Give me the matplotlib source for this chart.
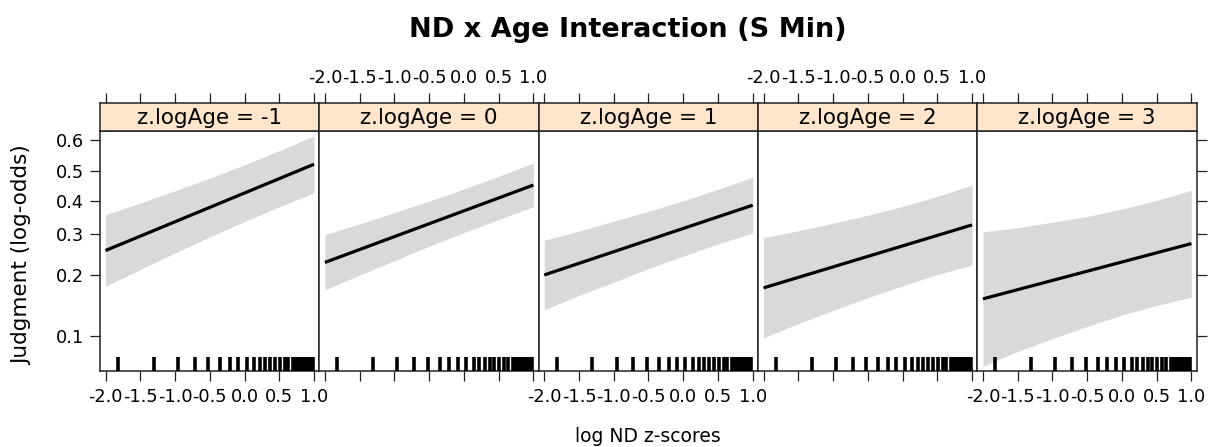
import matplotlib
matplotlib.use("Agg")
import matplotlib.pyplot as plt
from matplotlib.ticker import FixedLocator, FixedFormatter, NullLocator

# ---------------- data ----------------
age_levels = [-1, 0, 1, 2, 3]
fit_x = [-2.0, 1.0]
fit_start = [0.257, 0.228, 0.200, 0.174, 0.154]
fit_end = [0.521, 0.452, 0.387, 0.327, 0.275]

band_x = [-2.0, -1.5, -1.0, -0.5, 0.0, 0.5, 1.0]
band_upper = [
    [0.357, 0.394, 0.433, 0.475, 0.519, 0.566, 0.613],
    [0.299, 0.330, 0.364, 0.400, 0.439, 0.481, 0.525],
    [0.284, 0.309, 0.338, 0.368, 0.401, 0.438, 0.478],
    [0.291, 0.310, 0.332, 0.356, 0.383, 0.415, 0.452],
    [0.307, 0.319, 0.335, 0.352, 0.375, 0.402, 0.435],
]
band_lower = [
    [0.177, 0.212, 0.251, 0.293, 0.337, 0.382, 0.427],
    [0.170, 0.200, 0.232, 0.268, 0.305, 0.343, 0.382],
    [0.136, 0.160, 0.185, 0.214, 0.243, 0.274, 0.304],
    [0.098, 0.116, 0.135, 0.156, 0.178, 0.201, 0.222],
    [0.069, 0.083, 0.097, 0.112, 0.128, 0.143, 0.157],
]

rug_x = [-1.82, -1.31, -0.96, -0.72, -0.52, -0.35, -0.21, -0.09, 0.03,
         0.14, 0.22, 0.30, 0.37, 0.44, 0.51, 0.58, 0.63,
         0.70, 0.72, 0.74, 0.76, 0.78, 0.80, 0.82, 0.84, 0.86, 0.88,
         0.90, 0.92, 0.94, 0.96, 0.98]

xticks = [-2.0, -1.5, -1.0, -0.5, 0.0, 0.5, 1.0]
xtick_labels = ["-2.0", "-1.5", "-1.0", "-0.5", "0.0", "0.5", "1.0"]
yticks = [0.1, 0.2, 0.3, 0.4, 0.5, 0.6]
ytick_labels = ["0.1", "0.2", "0.3", "0.4", "0.5", "0.6"]

title = "ND x Age Interaction (S Min)"
xlabel = "log ND z-scores"
ylabel = "Judgment (log-odds)"

# ---------------- layout ----------------
W, H = 1208, 447
fig = plt.figure(figsize=(W / 100, H / 100), dpi=100)
plt.rcParams['font.family'] = ['DejaVu Sans']

left_px, panel_w_px = 100, 219.34
bottom_px, top_px, strip_top_px = 371, 130.7, 103.3
xlim = (-2.08, 1.076)
ylim = (0.0653, 0.6293)

edge = "#222222"
strip_col = "#ffe5cc"
band_col = "#d9d9d9"
tick_fs = 12.8

for i, age in enumerate(age_levels):
    x0 = (left_px + i * panel_w_px) / W
    w = panel_w_px / W
    ax = fig.add_axes([x0, (H - bottom_px) / H, w, (bottom_px - top_px) / H])
    sax = fig.add_axes([x0, (H - top_px) / H, w, (top_px - strip_top_px) / H],
                       sharex=ax)

    ax.set_yscale('logit')
    ax.fill_between(band_x, band_lower[i], band_upper[i],
                    color=band_col, linewidth=0, zorder=1)
    ax.plot(fit_x, [fit_start[i], fit_end[i]], color='black', lw=2.3,
            solid_capstyle='butt', zorder=3)
    ax.vlines(rug_x, 0, 0.058, transform=ax.get_xaxis_transform(),
              color='black', lw=2.6, zorder=4)

    ax.set_xlim(*xlim)
    ax.set_ylim(*ylim)

    ax.xaxis.set_major_locator(FixedLocator(xticks))
    ax.xaxis.set_major_formatter(FixedFormatter(xtick_labels))
    ax.xaxis.set_minor_locator(NullLocator())
    ax.tick_params(axis='x', direction='out', length=7.5, width=0.9,
                   color=edge, labelsize=tick_fs, pad=5,
                   labelbottom=(i % 2 == 0), bottom=True, top=False)

    ax.yaxis.set_major_locator(FixedLocator(yticks))
    ax.yaxis.set_major_formatter(FixedFormatter(ytick_labels))
    ax.yaxis.set_minor_locator(NullLocator())
    ax.tick_params(axis='y', direction='out', length=7.5, width=0.9,
                   color=edge, labelsize=tick_fs, pad=4,
                   left=(i == 0), labelleft=(i == 0),
                   right=(i == len(age_levels) - 1), labelright=False)

    for sp in ax.spines.values():
        sp.set_color(edge)
        sp.set_linewidth(1.1)

    sax.set_facecolor(strip_col)
    sax.set_yticks([])
    sax.tick_params(axis='x', direction='out', length=7.5, width=0.9,
                    color=edge, labelsize=tick_fs, pad=4,
                    bottom=False, labelbottom=False,
                    top=True, labeltop=(i % 2 == 1))
    for sp in sax.spines.values():
        sp.set_color(edge)
        sp.set_linewidth(1.1)
    sax.text(0.5, 0.45, f"z.logAge = {age}", transform=sax.transAxes,
             ha='center', va='center', fontsize=15.5, color='black')

fig.text(628 / W, 1 - 30 / H, title, ha='center', va='center',
         fontsize=19.5, fontweight='bold')
fig.text(648 / W, 1 - 437 / H, xlabel, ha='center', va='center', fontsize=13.5)
fig.text(22 / W, 1 - 255 / H, ylabel, ha='center', va='center',
         rotation=90, fontsize=15.5)

fig.savefig("out.png", dpi=100)
